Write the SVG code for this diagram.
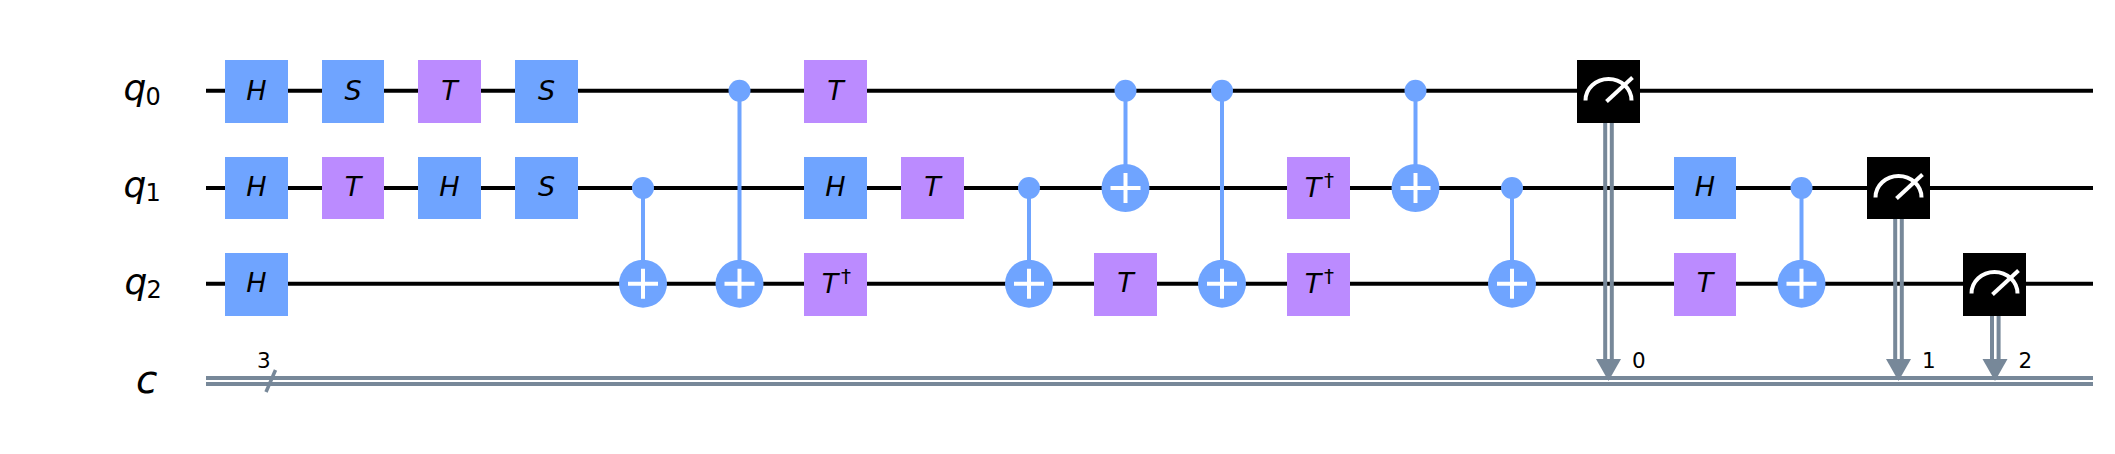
<svg xmlns="http://www.w3.org/2000/svg" width="2115" height="454" viewBox="0 0 2115 454">
<style>
text{font-family:"DejaVu Sans",sans-serif;fill:#000}
.lab{font-size:36px;font-style:italic}
.sub{font-size:24px}
.num{font-size:21.500px}
.g{font-size:27px;font-style:italic;text-anchor:middle}
.d{font-size:20px}
.blue{fill:#6fa4ff}
.pur{fill:#bb8bff}
.blk{fill:#000}
.w{stroke:#000;stroke-width:4;fill:none}
.c{stroke:#778899;stroke-width:4;fill:none}
.cx{stroke:#6fa4ff;stroke-width:4;fill:none}
.pl{stroke:#fff;stroke-width:4;fill:none}
.m{stroke:#fff;stroke-width:4;fill:none}
.ah{fill:#778899}
</style>
<defs>
<g id="meter"><path class="m" d="M-23 9.500A23 21.500 0 0 1 23 9.500"/><path class="m" d="M-2 10.500L24 -13.500"/></g>
</defs>
<g id="connectors">
<line class="w" x1="206" y1="90.700" x2="2093" y2="90.700"/>
<line class="w" x1="206" y1="188" x2="2093" y2="188"/>
<line class="w" x1="206" y1="283.700" x2="2093" y2="283.700"/>
<line class="c" x1="206" y1="378" x2="2093" y2="378"/>
<line class="c" x1="206" y1="384" x2="2093" y2="384"/>
<line class="c" style="stroke-width:3.500" x1="275.500" y1="370" x2="266" y2="392"/>
<line class="cx" x1="643" y1="188" x2="643" y2="283.700"/>
<line class="cx" x1="739.500" y1="90.700" x2="739.500" y2="283.700"/>
<line class="cx" x1="1029" y1="188" x2="1029" y2="283.700"/>
<line class="cx" x1="1125.500" y1="90.700" x2="1125.500" y2="188"/>
<line class="cx" x1="1222" y1="90.700" x2="1222" y2="283.700"/>
<line class="cx" x1="1415.500" y1="90.700" x2="1415.500" y2="188"/>
<line class="cx" x1="1512" y1="188" x2="1512" y2="283.700"/>
<line class="cx" x1="1801.500" y1="188" x2="1801.500" y2="283.700"/>
<line class="c" x1="1605.200" y1="120" x2="1605.200" y2="365"/>
<line class="c" x1="1611.800" y1="120" x2="1611.800" y2="365"/>
<polygon class="ah" points="1596,359 1621,359 1608.500,381"/>
<line class="c" x1="1895.200" y1="217" x2="1895.200" y2="365"/>
<line class="c" x1="1901.800" y1="217" x2="1901.800" y2="365"/>
<polygon class="ah" points="1886,359 1911,359 1898.500,381"/>
<line class="c" x1="1992" y1="313" x2="1992" y2="365"/>
<line class="c" x1="1998.600" y1="313" x2="1998.600" y2="365"/>
<polygon class="ah" points="1982.500,359 2007.500,359 1995,381"/>
</g>
<g id="label-q0"><text class="lab" x="123.500" y="100">q</text><text class="sub" x="145.500" y="105">0</text></g>
<g id="label-q1"><text class="lab" x="123.500" y="197">q</text><text class="sub" x="145.500" y="201">1</text></g>
<g id="label-q2"><text class="lab" x="124.500" y="293.500">q</text><text class="sub" x="146.500" y="298">2</text></g>
<g id="label-c"><text class="lab" style="font-size:39px" x="136" y="392.500">c</text></g>
<g id="label-3"><text class="num" x="257" y="368">3</text></g>
<g id="label-m0"><text class="num" x="1632" y="367.500">0</text></g>
<g id="label-m1"><text class="num" x="1922" y="367.500">1</text></g>
<g id="label-m2"><text class="num" x="2018.500" y="367.500">2</text></g>

<g id="q0-h"><rect class="blue" x="225" y="60" width="63" height="63"/><text class="g" x="256.500" y="99.500">H</text></g>
<g id="q0-s1"><rect class="blue" x="322" y="60" width="62" height="63"/><text class="g" x="353" y="99.500">S</text></g>
<g id="q0-t1"><rect class="pur" x="418" y="60" width="63" height="63"/><text class="g" x="449.500" y="99.500">T</text></g>
<g id="q0-s2"><rect class="blue" x="515" y="60" width="63" height="63"/><text class="g" x="546.500" y="99.500">S</text></g>
<g id="q0-t2"><rect class="pur" x="804" y="60" width="63" height="63"/><text class="g" x="835.500" y="99.500">T</text></g>

<g id="q1-h1"><rect class="blue" x="225" y="157" width="63" height="62"/><text class="g" x="256.500" y="196">H</text></g>
<g id="q1-t1"><rect class="pur" x="322" y="157" width="62" height="62"/><text class="g" x="353" y="196">T</text></g>
<g id="q1-h2"><rect class="blue" x="418" y="157" width="63" height="62"/><text class="g" x="449.500" y="196">H</text></g>
<g id="q1-s"><rect class="blue" x="515" y="157" width="63" height="62"/><text class="g" x="546.500" y="196">S</text></g>
<g id="q1-h3"><rect class="blue" x="804" y="157" width="63" height="62"/><text class="g" x="835.500" y="196">H</text></g>
<g id="q1-t2"><rect class="pur" x="901" y="157" width="63" height="62"/><text class="g" x="932.500" y="196">T</text></g>
<g id="q1-tdg"><rect class="pur" x="1287" y="157" width="63" height="62"/><text class="g" x="1313" y="196.500">T</text><text class="d" x="1324" y="186.500">†</text></g>
<g id="q1-h4"><rect class="blue" x="1674" y="157" width="62" height="62"/><text class="g" x="1705" y="196">H</text></g>

<g id="q2-h"><rect class="blue" x="225" y="253" width="63" height="63"/><text class="g" x="256.500" y="292">H</text></g>
<g id="q2-tdg1"><rect class="pur" x="804" y="253" width="63" height="63"/><text class="g" x="830" y="292.500">T</text><text class="d" x="841" y="282.500">†</text></g>
<g id="q2-t1"><rect class="pur" x="1094" y="253" width="63" height="63"/><text class="g" x="1125.500" y="292">T</text></g>
<g id="q2-tdg2"><rect class="pur" x="1287" y="253" width="63" height="63"/><text class="g" x="1313" y="292.500">T</text><text class="d" x="1324" y="282.500">†</text></g>
<g id="q2-t2"><rect class="pur" x="1674" y="253" width="62" height="63"/><text class="g" x="1705" y="292">T</text></g>

<g id="cx1-ctrl"><circle class="blue" cx="643" cy="188" r="11"/></g>
<g id="cx1-tgt"><circle class="blue" cx="643" cy="283.700" r="24"/><path class="pl" d="M628 283.700H658M643 268.700V298.700"/></g>
<g id="cx2-ctrl"><circle class="blue" cx="739.500" cy="90.700" r="11"/></g>
<g id="cx2-tgt"><circle class="blue" cx="739.500" cy="283.700" r="24"/><path class="pl" d="M724.500 283.700H754.500M739.500 268.700V298.700"/></g>
<g id="cx3-ctrl"><circle class="blue" cx="1029" cy="188" r="11"/></g>
<g id="cx3-tgt"><circle class="blue" cx="1029" cy="283.700" r="24"/><path class="pl" d="M1014 283.700H1044M1029 268.700V298.700"/></g>
<g id="cx4-ctrl"><circle class="blue" cx="1125.500" cy="90.700" r="11"/></g>
<g id="cx4-tgt"><circle class="blue" cx="1125.500" cy="188" r="24"/><path class="pl" d="M1110.500 188H1140.500M1125.500 173V203"/></g>
<g id="cx5-ctrl"><circle class="blue" cx="1222" cy="90.700" r="11"/></g>
<g id="cx5-tgt"><circle class="blue" cx="1222" cy="283.700" r="24"/><path class="pl" d="M1207 283.700H1237M1222 268.700V298.700"/></g>
<g id="cx6-ctrl"><circle class="blue" cx="1415.500" cy="90.700" r="11"/></g>
<g id="cx6-tgt"><circle class="blue" cx="1415.500" cy="188" r="24"/><path class="pl" d="M1400.500 188H1430.500M1415.500 173V203"/></g>
<g id="cx7-ctrl"><circle class="blue" cx="1512" cy="188" r="11"/></g>
<g id="cx7-tgt"><circle class="blue" cx="1512" cy="283.700" r="24"/><path class="pl" d="M1497 283.700H1527M1512 268.700V298.700"/></g>
<g id="cx8-ctrl"><circle class="blue" cx="1801.500" cy="188" r="11"/></g>
<g id="cx8-tgt"><circle class="blue" cx="1801.500" cy="283.700" r="24"/><path class="pl" d="M1786.500 283.700H1816.500M1801.500 268.700V298.700"/></g>

<g id="measure0"><rect class="blk" x="1577" y="60" width="63" height="63"/><use href="#meter" x="1608.500" y="91"/></g>
<g id="measure1"><rect class="blk" x="1867" y="157" width="63" height="62"/><use href="#meter" x="1898.500" y="188"/></g>
<g id="measure2"><rect class="blk" x="1963" y="253" width="63" height="63"/><use href="#meter" x="1994.500" y="284"/></g>
</svg>
